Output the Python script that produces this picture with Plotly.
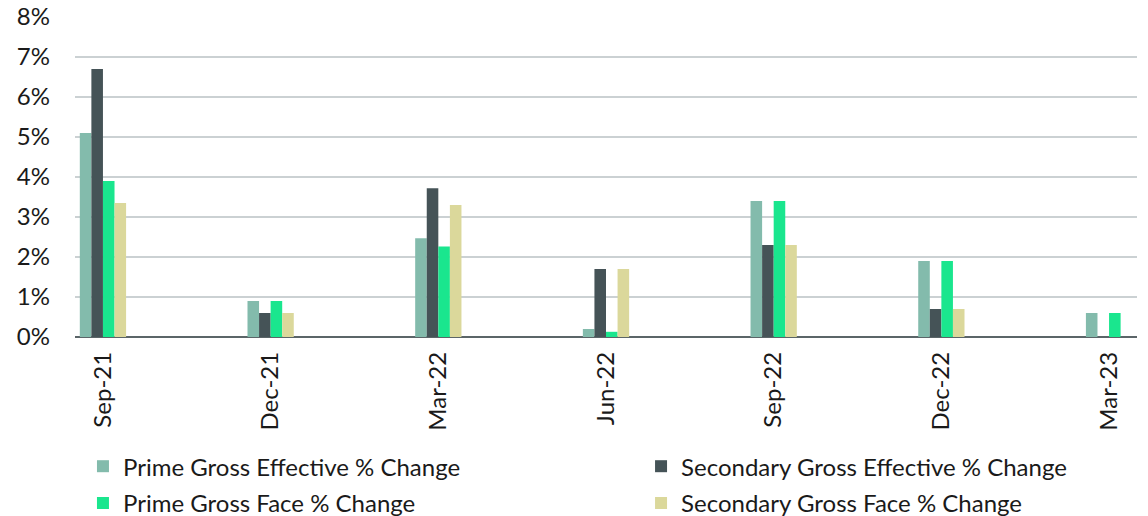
import plotly.graph_objects as go

# Quarterly rent change, % (x positions are month offsets from Sep-21)
quarters = ["Sep-21", "Dec-21", "Mar-22", "Jun-22", "Sep-22", "Dec-22", "Mar-23"]
month_offset = [0, 3, 6, 9, 12, 15, 18]

prime_eff = [5.1, 0.9, 2.47, 0.2, 3.4, 1.9, 0.6]
secondary_eff = [6.7, 0.6, 3.72, 1.7, 2.3, 0.7, None]
prime_face = [3.9, 0.9, 2.26, 0.13, 3.4, 1.9, 0.6]
secondary_face = [3.35, 0.6, 3.3, 1.7, 2.3, 0.7, None]

# (name, values, colour)
series = [
    ("Prime Gross Effective % Change", prime_eff, "#83bbac"),
    ("Secondary Gross Effective % Change", secondary_eff, "#455357"),
    ("Prime Gross Face % Change", prime_face, "#1ae68e"),
    ("Secondary Gross Face % Change", secondary_face, "#dbd89b"),
]

FONT = "Lato"
TEXT = "#1a1a1a"
bar_w = 0.207

# one single-entry legend per series, laid out as a 2x2 grid under the axis
legend_ids = ["legend", "legend2", "legend3", "legend4"]
legend_pos = [(0.0075, -0.405), (0.533, -0.405), (0.0075, -0.52), (0.533, -0.52)]

fig = go.Figure()
for i, (name, vals, color) in enumerate(series):
    fig.add_trace(go.Bar(
        name=name,
        x=month_offset,
        y=vals,
        width=bar_w,
        offset=-2 * bar_w + i * bar_w,
        marker=dict(color=color, line=dict(width=0)),
        legend=legend_ids[i],
    ))

legends = {}
for lid, (lx, ly) in zip(legend_ids, legend_pos):
    legends[lid] = dict(
        orientation="h",
        x=lx, xanchor="left",
        y=ly, yanchor="middle",
        font=dict(family=FONT, size=24, color=TEXT),
        itemwidth=30,
        bgcolor="rgba(0,0,0,0)",
    )

fig.update_layout(
    barmode="overlay",
    width=1148,
    height=516,
    margin=dict(l=75, r=11, t=17, b=179, autoexpand=False),
    plot_bgcolor="white",
    paper_bgcolor="white",
    font=dict(family=FONT, size=24, color=TEXT),
    showlegend=True,
    **legends,
    xaxis=dict(
        range=[-0.5, 18.5],
        tickmode="array",
        tickvals=month_offset,
        ticktext=quarters,
        tickangle=-90,
        ticks="",
        ticklabelstandoff=9,
        showgrid=False,
        zeroline=False,
        showline=False,
        tickfont=dict(family=FONT, size=24, color=TEXT),
    ),
    yaxis=dict(
        range=[0, 8],
        tickmode="array",
        tickvals=[0, 1, 2, 3, 4, 5, 6, 7, 8],
        ticktext=[f"{v}%" for v in range(9)],
        showgrid=True,
        gridcolor="#cbd1d3",
        gridwidth=2,
        zeroline=True,
        zerolinecolor="#5b6568",
        zerolinewidth=2,
        ticks="",
        ticklabelstandoff=24,
        tickfont=dict(family=FONT, size=24, color=TEXT),
    ),
)

fig.write_html("out.html")
